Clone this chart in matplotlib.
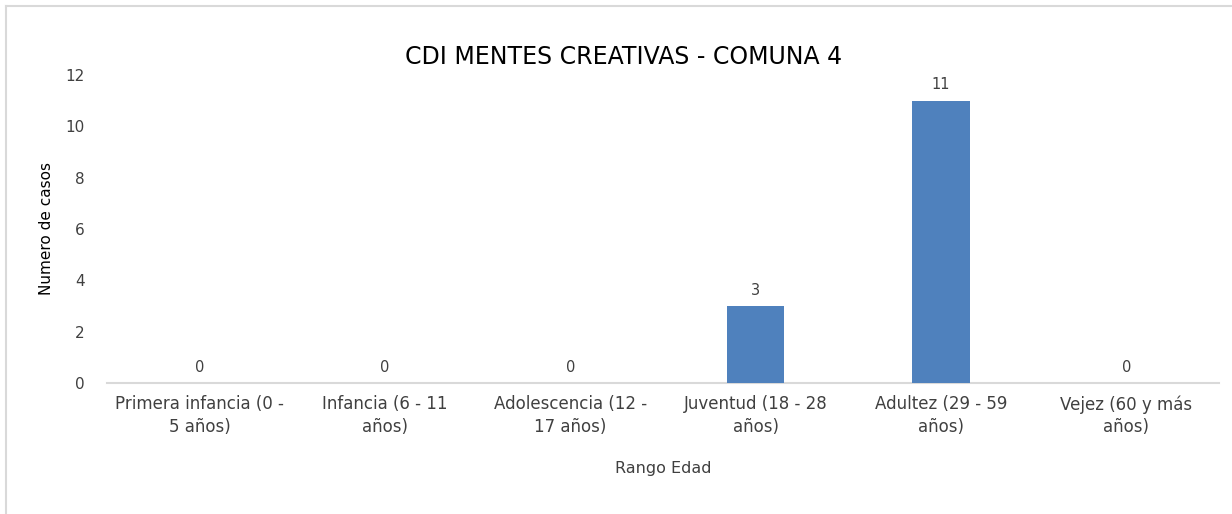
import matplotlib
matplotlib.use("Agg")
import matplotlib.pyplot as plt
from matplotlib.lines import Line2D

plt.rcParams['font.family'] = ['DejaVu Sans']

categories = ["Primera infancia (0 -\n5 años)", "Infancia (6 - 11\naños)",
              "Adolescencia (12 -\n17 años)", "Juventud (18 - 28\naños)",
              "Adultez (29 - 59\naños)", "Vejez (60 y más\naños)"]
values = [0, 0, 0, 3, 11, 0]
yticks = [0, 2, 4, 6, 8, 10, 12]

title = "CDI MENTES CREATIVAS - COMUNA 4"
xlabel = "Rango Edad"
ylabel = "Numero de casos"

fig = plt.figure(figsize=(12.32, 5.14), dpi=100)
ax = fig.add_axes([0.0869, 0.2549, 0.9025, 0.5992])

x = list(range(len(categories)))
bars = ax.bar(x, values, width=0.31, color="#4f81bd", zorder=3)
for xi, v in zip(x, values):
    ax.annotate(str(v), (xi, v), xytext=(0, 6), textcoords="offset points",
                ha="center", va="bottom", fontsize=10.5, color="#404040")

ax.set_xlim(-0.5, len(categories) - 0.5)
ax.set_ylim(0, 12)
ax.set_yticks(yticks)
ax.set_xticks(x)
ax.set_xticklabels(categories, fontsize=12, color="#404040", linespacing=1.3)
ax.tick_params(axis="y", labelsize=11, labelcolor="#404040", length=0, pad=16)
ax.tick_params(axis="x", length=0, pad=9)
for s in ["top", "right", "left"]:
    ax.spines[s].set_visible(False)
ax.spines["bottom"].set_color("#d9d9d9")
ax.spines["bottom"].set_linewidth(1.5)

ax.set_xlabel(xlabel, fontsize=11.5, color="#404040", labelpad=18)
ax.set_ylabel(ylabel, fontsize=11, color="black", labelpad=8)
fig.text(0.506, 0.889, title, ha="center", va="center", fontsize=17, color="black")

# chart area border (top and left visible)
fig.add_artist(Line2D([0.005, 1.0], [0.988, 0.988], color="#d9d9d9", lw=1.5,
                      transform=fig.transFigure))
fig.add_artist(Line2D([0.005, 0.005], [0.0, 0.988], color="#d9d9d9", lw=1.5,
                      transform=fig.transFigure))

fig.savefig("out.png", dpi=100, facecolor="white")
